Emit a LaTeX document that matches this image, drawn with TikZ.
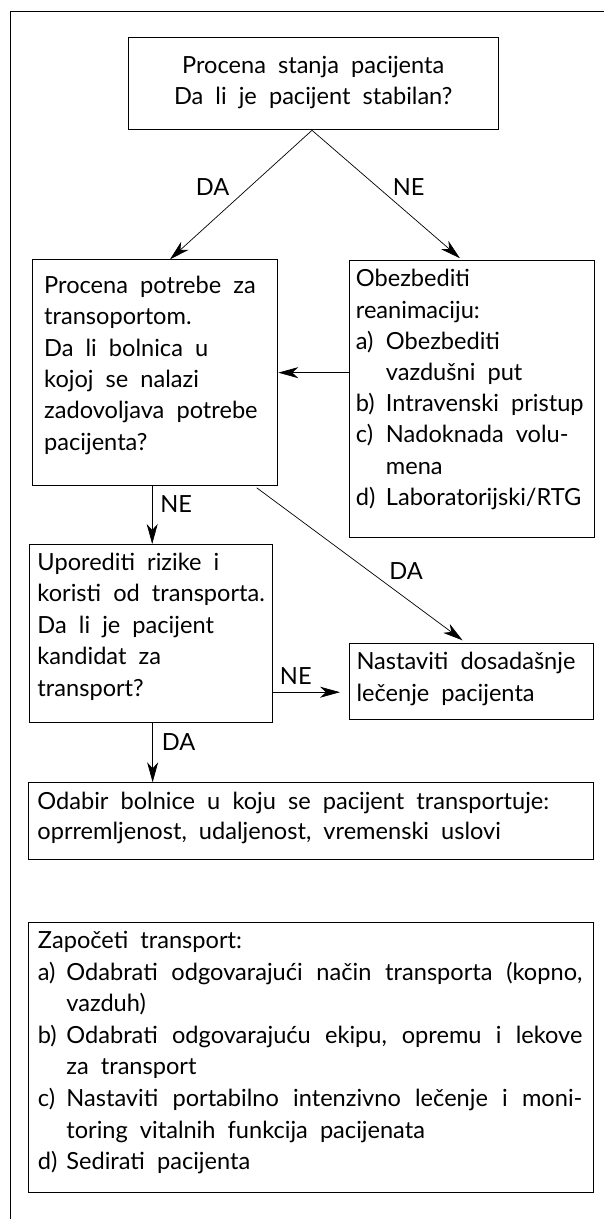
\documentclass[tikz,border=0pt]{standalone}
\usepackage{fontspec}
\setmainfont{Lato}[WordSpace=2]
\usetikzlibrary{arrows.meta,calc}
\newcommand{\fsz}[1]{\fontsize{23.6}{#1}\selectfont}
\newcommand{\lbl}[2]{\makebox[#1][l]{#2}}
\begin{document}
\begin{tikzpicture}[x=1pt,y=-1pt,
  box/.style={draw,line width=1pt,rectangle,inner sep=0pt,anchor=north west},
  txt/.style={inner sep=0pt,anchor=north west,align=left},
  lab/.style={inner sep=0pt,anchor=center,font=\fsz{28}},
  arr/.style={line width=0.7pt,-{Stealth[length=20pt,width=11pt,inset=6pt]}}]
\useasboundingbox (0,0) rectangle (604,1219);
\draw[line width=1.3pt] (604,11.7) -- (10.4,11.7) -- (10.4,1219);
% boxes
\node[box,minimum width=369.4pt,minimum height=92pt] (top) at (128.3,37.3) {};
\node[box,minimum width=245pt,minimum height=225.7pt] (need) at (32.3,259.3) {};
\node[box,minimum width=245.7pt,minimum height=277.2pt] (reanim) at (348.6,259.5) {};
\node[box,minimum width=242.7pt,minimum height=177.7pt] (compare) at (29,544) {};
\node[box,minimum width=244pt,minimum height=76pt] (cont) at (349.3,643.3) {};
\node[box,minimum width=565pt,minimum height=77pt] (choose) at (28.3,782.3) {};
\node[box,minimum width=565pt,minimum height=270.5pt] (start) at (28.3,921.7) {};
% texts
\node[txt,anchor=north,align=center,font=\fsz{30.7}] (topT) at (313.2,51.8) {\strut Procena stanja pacijenta\\Da li je pacijent stabilan?};
\node[txt,font=\fsz{31.3}] (needT) at (44,271.4) {\strut Procena potrebe za\\transoportom.\\Da li bolnica u\\kojoj se nalazi\\zadovoljava potrebe\\pacijenta?};
\node[txt,font=\fsz{31.2}] (reanimT) at (355.7,264.8) {\strut Obezbediti\\reanimaciju:\\\lbl{30pt}{a)}Obezbediti\\\hspace*{30pt}vazdušni put\\\lbl{30pt}{b)}Intravenski pristup\\\lbl{30pt}{c)}Nadoknada volu-\\\hspace*{30pt}mena\\\lbl{30pt}{d)}Laboratorijski/RTG};
\node[txt,font=\fsz{31.5}] (compareT) at (37.3,548) {\strut Uporediti rizike i\\koristi od transporta.\\Da li je pacijent\\kandidat za\\transport?};
\node[txt,font=\fsz{31.5}] (contT) at (356.3,647.3) {\strut Nastaviti dosadašnje\\lečenje pacijenta};
\node[txt,font=\fsz{30}] (chooseT) at (37.2,787.8) {\strut Odabir bolnice u koju se pacijent transportuje:\\oprremljenost, udaljenost, vremenski uslovi};
\node[txt,font=\fsz{31.6}] (startT) at (37.7,926.2) {\strut Započeti transport:\\
\lbl{28.5pt}{a)}\makebox[516pt][s]{Odabrati odgovarajući način transporta (kopno,}\\
\hspace*{28.5pt}vazduh)\\
\lbl{28.5pt}{b)}\makebox[516pt][s]{Odabrati odgovarajuću ekipu, opremu i lekove}\\
\hspace*{28.5pt}za transport\\
\lbl{28.5pt}{c)}\makebox[516pt][s]{Nastaviti portabilno intenzivno lečenje i moni-}\\
\hspace*{28.5pt}toring vitalnih funkcija pacijenata\\
\lbl{28.5pt}{d)}Sedirati pacijenta};
% connectors
\draw[arr] ([xshift=-1.5pt]top.south) -- ([xshift=14.7pt]need.north);
\draw[arr,shorten >=2pt] ([xshift=-1.5pt]top.south) -- ([xshift=-10.5pt]reanim.north);
\draw[arr] (reanim.west |- need.east) -- (need.east);
\coordinate (n1) at ([xshift=-3.1pt]need.south);
\draw[arr] (n1) -- (n1 |- compare.north);
\draw[arr,shorten <=3pt,shorten >=5pt] ([xshift=-24pt]need.south east) -- ([xshift=-5.2pt]cont.north);
\coordinate (c1) at ([yshift=-10.4pt]cont.west);
\draw[arr,shorten >=9.3pt] (compare.east |- c1) -- (c1);
\coordinate (c2) at ([xshift=1.8pt]compare.south);
\draw[arr] (c2) -- (c2 |- choose.north);
% labels
\node[lab] (l1) at (212.5,187.5) {DA};
\node[lab] (l2) at (408.7,187.5) {NE};
\node[lab] (l3) at (176.2,504.2) {NE};
\node[lab] (l4) at (406,571) {DA};
\node[lab] (l5) at (295.8,675.8) {NE};
\node[lab] (l6) at (178.7,741.7) {DA};
\end{tikzpicture}
\end{document}
